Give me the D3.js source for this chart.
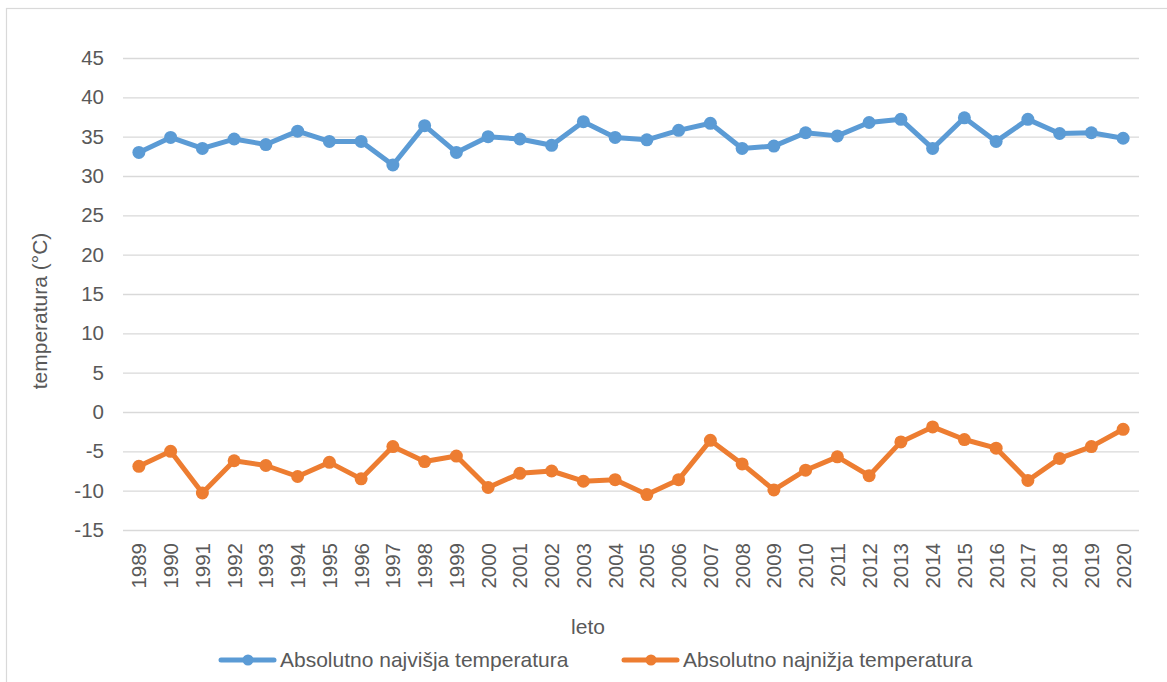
<!DOCTYPE html>
<html>
<head>
<meta charset="utf-8">
<script src="https://cdn.jsdelivr.net/npm/d3@7"></script>
<style>
  html, body { margin: 0; padding: 0; background: #fff; }
  svg { display: block; font-family: "Liberation Sans", Arial, sans-serif; }
</style>
</head>
<body>
<svg id="chart" width="1167" height="682"></svg>
<script>
// Years on the category axis
const years = [1989, 1990, 1991, 1992, 1993, 1994, 1995, 1996, 1997, 1998, 1999, 2000,
  2001, 2002, 2003, 2004, 2005, 2006, 2007, 2008, 2009, 2010, 2011, 2012, 2013,
  2014, 2015, 2016, 2017, 2018, 2019, 2020];

// Absolute maximum temperature per year (°C)
const maxTemp = [33.0, 34.9, 33.5, 34.7, 34.0, 35.7, 34.4, 34.4, 31.4, 36.4, 33.0, 35.0,
  34.7, 33.9, 36.9, 34.9, 34.6, 35.8, 36.7, 33.5, 33.8, 35.5, 35.1, 36.8, 37.2,
  33.5, 37.4, 34.4, 37.2, 35.4, 35.5, 34.8];

// Absolute minimum temperature per year (°C)
const minTemp = [-6.9, -5.0, -10.3, -6.2, -6.8, -8.2, -6.4, -8.5, -4.4, -6.3, -5.6, -9.6,
  -7.8, -7.5, -8.8, -8.6, -10.5, -8.6, -3.6, -6.6, -9.9, -7.4, -5.7, -8.1, -3.8,
  -1.9, -3.5, -4.6, -8.7, -5.9, -4.4, -2.2];

// Value axis ticks
const yTicks = [-15, -10, -5, 0, 5, 10, 15, 20, 25, 30, 35, 40, 45];

const seriesNames = ["Absolutno najvišja temperatura", "Absolutno najnižja temperatura"];
const seriesColors = ["#5B9BD5", "#ED7D31"];
const yTitle = "temperatura (°C)";
const xTitle = "leto";

const W = 1167, H = 682;
const plot = { left: 123, right: 1139, top: 58, bottom: 530 };
const textColor = "#595959";
const fontSize = 21;
const tickFont = 20.5;
const fontFamily = "'Liberation Sans', Arial, sans-serif";

const svg = d3.select("#chart");

// chart frame
svg.append("rect")
  .attr("x", 6.5).attr("y", 8.5)
  .attr("width", W).attr("height", H)
  .attr("fill", "#fff").attr("stroke", "#d9d9d9").attr("stroke-width", 1.2);

const x = d3.scaleBand().domain(years).range([plot.left, plot.right]).padding(0);
const y = d3.scaleLinear().domain([-15, 45]).range([plot.bottom, plot.top]);
const cx = d => x(d) + x.bandwidth() / 2;

// horizontal gridlines
svg.append("g")
  .attr("transform", `translate(${plot.left},0)`)
  .call(d3.axisLeft(y).tickValues(yTicks).tickSize(-(plot.right - plot.left)).tickFormat(""))
  .call(g => g.select(".domain").remove())
  .call(g => g.selectAll("line").attr("stroke", "#d9d9d9").attr("stroke-width", 1.4));

// y tick labels (plain hyphen for negatives)
svg.append("g")
  .attr("transform", `translate(${plot.left},0)`)
  .call(d3.axisLeft(y).tickValues(yTicks).tickSize(0).tickPadding(19).tickFormat(d => String(d)))
  .call(g => g.select(".domain").remove())
  .call(g => g.selectAll("text")
    .attr("fill", textColor)
    .style("font-size", tickFont + "px")
    .style("font-family", fontFamily));

// x tick labels, rotated
svg.append("g")
  .attr("transform", `translate(0,${plot.bottom})`)
  .call(d3.axisBottom(x).tickSize(0).tickFormat(d => String(d)))
  .call(g => g.select(".domain").remove())
  .call(g => g.selectAll("text")
    .attr("fill", textColor)
    .style("font-size", tickFont + "px")
    .style("font-family", fontFamily)
    .attr("text-anchor", "end")
    .attr("transform", "rotate(-90)")
    .attr("x", -13)
    .attr("y", 0)
    .attr("dy", "0.36em"));

// axis titles
svg.append("text")
  .attr("transform", "translate(47,311) rotate(-90)")
  .attr("text-anchor", "middle")
  .attr("fill", textColor)
  .style("font-size", fontSize + "px")
  .text(yTitle);

svg.append("text")
  .attr("x", 588).attr("y", 634)
  .attr("text-anchor", "middle")
  .attr("fill", textColor)
  .style("font-size", fontSize + "px")
  .text(xTitle);

// series lines and markers
const line = d3.line().x((d, i) => cx(years[i])).y(d => y(d));
[maxTemp, minTemp].forEach((vals, si) => {
  svg.append("path")
    .datum(vals)
    .attr("d", line)
    .attr("fill", "none")
    .attr("stroke", seriesColors[si])
    .attr("stroke-width", 5)
    .attr("stroke-linejoin", "round")
    .attr("stroke-linecap", "round");
  svg.append("g").selectAll("circle")
    .data(vals)
    .join("circle")
    .attr("cx", (d, i) => cx(years[i]))
    .attr("cy", d => y(d))
    .attr("r", 6.5)
    .attr("fill", seriesColors[si]);
});

// legend
const legendX = [220, 623];
const legendY = 660;
seriesNames.forEach((name, si) => {
  const g = svg.append("g").attr("transform", `translate(${legendX[si]},${legendY})`);
  g.append("line")
    .attr("x1", 1).attr("x2", 54).attr("y1", 0).attr("y2", 0)
    .attr("stroke", seriesColors[si]).attr("stroke-width", 5).attr("stroke-linecap", "round");
  g.append("circle").attr("cx", 28).attr("cy", 0).attr("r", 5.5).attr("fill", seriesColors[si]);
  g.append("text")
    .attr("x", 60).attr("y", 0).attr("dy", "0.35em")
    .attr("fill", textColor)
    .style("font-size", fontSize + "px")
    .text(name);
});
</script>
</body>
</html>
